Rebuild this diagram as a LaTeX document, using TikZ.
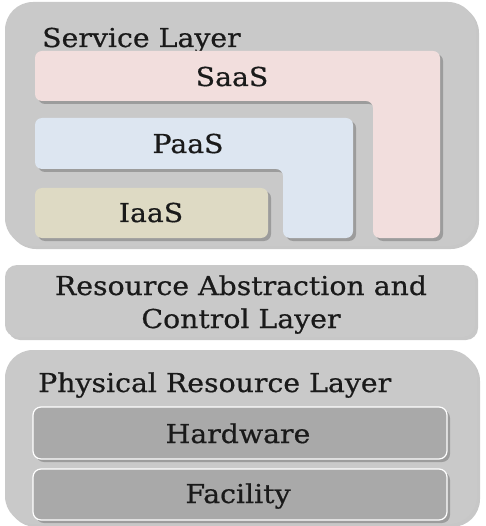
\documentclass[tikz,border=0pt]{standalone}
\usepackage{fontspec}
\setmainfont[FakeStretch=1.09,FakeBold=0.6]{DejaVu Serif}
\usetikzlibrary{shadows}
\definecolor{layergray}{HTML}{C9C9C9}
\definecolor{boxgray}{HTML}{A9A9A9}
\definecolor{saaspink}{HTML}{F2DEDD}
\definecolor{paasblue}{HTML}{DDE6F1}
\definecolor{iaasbeige}{HTML}{DEDAC4}
\definecolor{txt}{HTML}{1A1A1A}
\begin{document}
\begin{tikzpicture}[x=1pt,y=-1pt,
  shade/.style={drop shadow={shadow xshift=3pt,shadow yshift=-3pt,fill=black,opacity=0.22}},
  layer/.style={fill=layergray,draw=none,shade},
  inner/.style={draw=none,shade,rounded corners=7pt},
  sub/.style={fill=boxgray,draw=white,line width=1.2pt,rounded corners=8pt,shade},
  lbl/.style={font=\fontsize{26}{30}\selectfont,text=txt,inner sep=0pt}]
\useasboundingbox (0,0) rectangle (485,526);
\fill[white] (0,0) rectangle (485,526);
% Service layer
\draw[layer,rounded corners=28pt] (5,2) rectangle (476,246);
\node[lbl,anchor=base west] (svc) at (42,47) {Service Layer};
\draw[inner,fill=saaspink] (35,51) -- (440,51) -- (440,238) -- (373,238) -- (373,101) -- (35,101) -- cycle;
\draw[inner,fill=paasblue] (35,118) -- (353,118) -- (353,238) -- (283,238) -- (283,169) -- (35,169) -- cycle;
\draw[inner,fill=iaasbeige] (35,188) rectangle (268,238);
\node[lbl,anchor=base] (saas) at (232,86) {SaaS};
\node[lbl,anchor=base] (paas) at (188,153) {PaaS};
\node[lbl,anchor=base] (iaas) at (151,222) {IaaS};
% Resource abstraction
\draw[layer,rounded corners=12pt] (5,265) rectangle (475,337);
\node[lbl,anchor=base] (ra1) at (241,295) {Resource Abstraction and};
\node[lbl,anchor=base] (ra2) at (241,328) {Control Layer};
% Physical
\draw[layer,rounded corners=28pt] (5,350) rectangle (477,524);
\node[lbl,anchor=base west] (phys) at (38,392) {Physical Resource Layer};
\draw[sub] (33,407) rectangle (447,459);
\draw[sub] (33,469) rectangle (447,520);
\node[lbl,anchor=base] (hw) at (238,443) {Hardware};
\node[lbl,anchor=base] (fac) at (238,503) {Facility};
\end{tikzpicture}
\end{document}
